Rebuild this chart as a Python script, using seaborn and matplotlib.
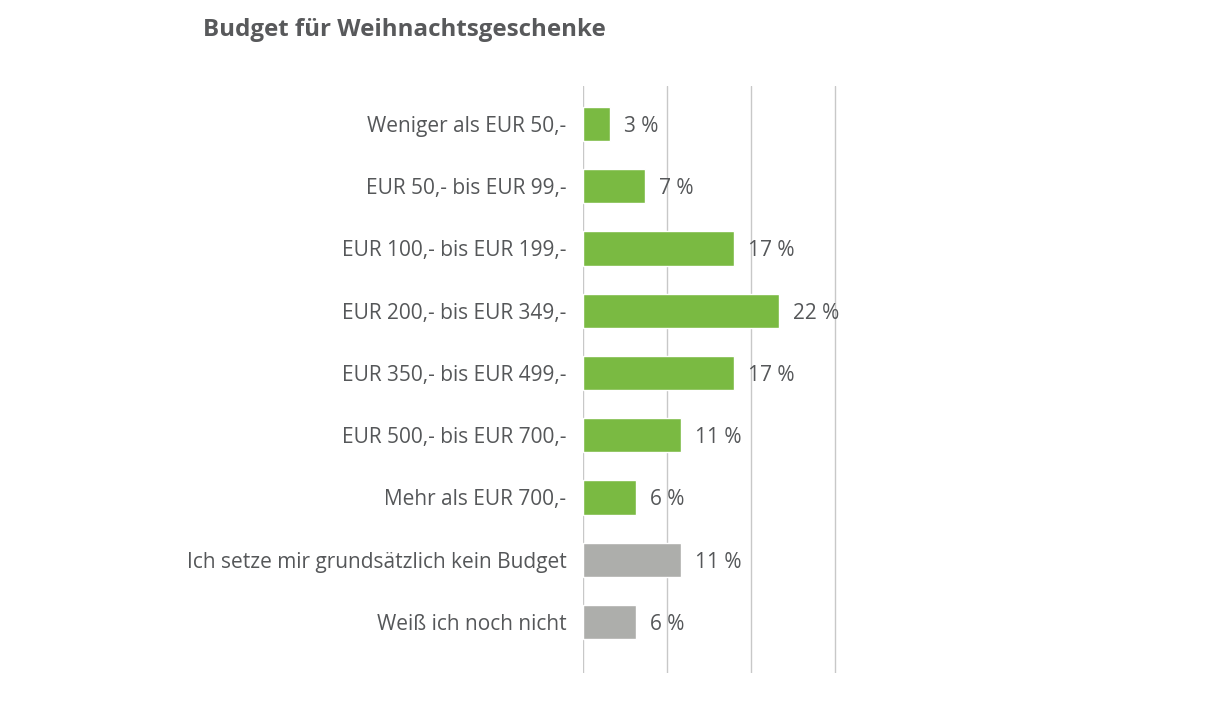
import matplotlib
matplotlib.use("Agg")
import matplotlib.pyplot as plt
import seaborn as sns
import pandas as pd

categories = [
    "Weniger als EUR 50,-",
    "EUR 50,- bis EUR 99,-",
    "EUR 100,- bis EUR 199,-",
    "EUR 200,- bis EUR 349,-",
    "EUR 350,- bis EUR 499,-",
    "EUR 500,- bis EUR 700,-",
    "Mehr als EUR 700,-",
    "Ich setze mir grundsätzlich kein Budget",
    "Weiß ich noch nicht",
]
values = [3, 7, 17, 22, 17, 11, 6, 11, 6]
groups = ["budget"] * 7 + ["other"] * 2
title = "Budget für Weihnachtsgeschenke"

GREEN = "#7aba42"
GREY = "#adaeab"
TEXT = "#555759"

sns.set_style("white")
plt.rcParams["font.family"] = ["Open Sans", "DejaVu Sans"]

df = pd.DataFrame({"cat": categories, "val": values, "grp": groups})

PX = 8.9  # pixels per percent
fig = plt.figure(figsize=(12.1, 7.02), dpi=100)
ax = fig.add_axes([583 / 1210, 1 - 673 / 702, (840 - 583) / 1210, (673 - 86) / 702])

sns.barplot(data=df, y="cat", x="val", hue="grp", order=categories,
            palette={"budget": GREEN, "other": GREY}, orient="h",
            width=0.55, dodge=False, legend=False, ax=ax, saturation=1)

step = 84 / PX
ax.set_xlim(0, (840 - 583) / PX)
ax.set_ylim(8.82, -0.61)
ax.set_xticks([0, step, 2 * step, 3 * step])
ax.set_xticklabels([])
ax.grid(axis="x", color="#c8c8c8", linewidth=1.0)
ax.set_axisbelow(True)
for s in ax.spines.values():
    s.set_visible(False)
ax.tick_params(axis="both", length=0)
ax.tick_params(axis="y", pad=12, labelsize=15, labelcolor=TEXT)
ax.set_xlabel("")
ax.set_ylabel("")

for i, v in enumerate(values):
    ax.text(v + 14 / PX, i, f"{v} %", va="center_baseline", ha="left",
            fontsize=15, color=TEXT, clip_on=False)

fig.text(203 / 1210, 1 - 30 / 702, title, ha="left", va="center",
         fontsize=17.4, fontweight="bold", color="#58595b")

fig.savefig("out.png", dpi=100, facecolor="white")
